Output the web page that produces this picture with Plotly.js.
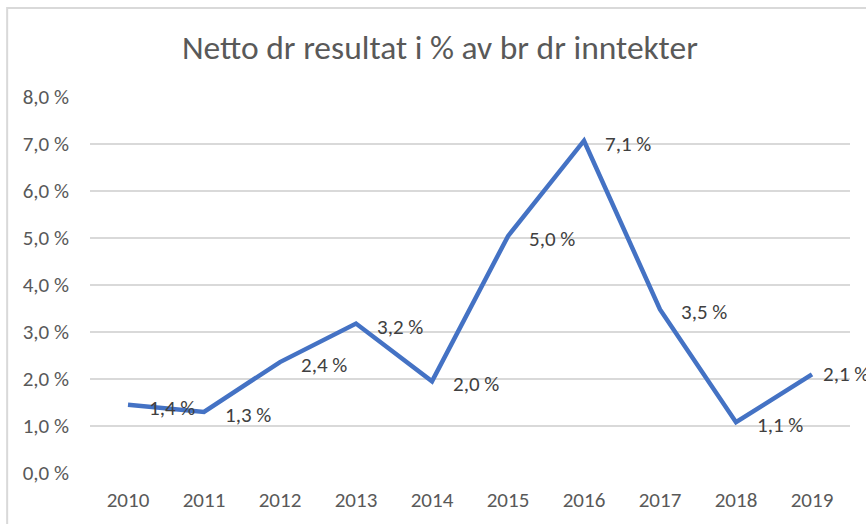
<!DOCTYPE html>
<html>
<head>
<meta charset="utf-8">
<script src="https://cdn.plot.ly/plotly-3.0.1.min.js"></script>
<style>
  html, body { margin: 0; padding: 0; background: #ffffff; overflow: hidden; }
  #chart { width: 866px; height: 524px; }
</style>
</head>
<body>
<div id="chart"></div>
<script>
const years = ['2010', '2011', '2012', '2013', '2014', '2015', '2016', '2017', '2018', '2019'];
const values = [1.45, 1.30, 2.36, 3.18, 1.95, 5.04, 7.07, 3.48, 1.08, 2.10];
const valueLabels = ['1,4 %', '1,3 %', '2,4 %', '3,2 %', '2,0 %', '5,0 %', '7,1 %', '3,5 %', '1,1 %', '2,1 %'];
const yTicks = [0, 1, 2, 3, 4, 5, 6, 7, 8];
const yTickLabels = ['0,0 %', '1,0 %', '2,0 %', '3,0 %', '4,0 %', '5,0 %', '6,0 %', '7,0 %', '8,0 %'];

const fontFam = 'Carlito, Calibri, Lato, sans-serif';

const trace = {
  type: 'scatter',
  mode: 'lines',
  x: years,
  y: values,
  line: { color: '#4472C4', width: 4.5 },
  hoverinfo: 'skip'
};

// category axis: annotation x given as category index;
// the last label is pulled in closer to its point (as the original chart does at the edge)
const lastIdx = years.length - 1;
const labelAnnotations = years.map((yr, i) => ({
  x: i,
  y: values[i],
  xref: 'x',
  yref: 'y',
  text: valueLabels[i],
  showarrow: false,
  xanchor: 'left',
  yanchor: 'middle',
  xshift: i === lastIdx ? 9 : 19,
  yshift: i === lastIdx ? 0 : -3,
  font: { family: fontFam, size: 21, color: '#404040' }
}));

const layout = {
  width: 866,
  height: 524,
  margin: { l: 90, r: 16, t: 97, b: 51 },
  paper_bgcolor: '#ffffff',
  plot_bgcolor: '#ffffff',
  showlegend: false,
  title: {
    text: 'Netto dr resultat i % av br dr inntekter',
    font: { family: fontFam, size: 33.5, color: '#595959' },
    x: 0.508,
    xanchor: 'center',
    y: 0.91,
    yanchor: 'middle'
  },
  xaxis: {
    type: 'category',
    categoryorder: 'array',
    categoryarray: years,
    range: [-0.5, years.length - 0.5],
    showgrid: false,
    zeroline: false,
    showline: false,
    ticks: '',
    tickfont: { family: fontFam, size: 21, color: '#595959' },
    ticklabelstandoff: 12
  },
  yaxis: {
    range: [0, 8],
    tickvals: yTicks,
    ticktext: yTickLabels,
    showgrid: true,
    gridcolor: '#d9d9d9',
    gridwidth: 1.5,
    zeroline: false,
    showline: false,
    ticks: '',
    tickfont: { family: fontFam, size: 21, color: '#595959' },
    ticklabelstandoff: 20
  },
  annotations: labelAnnotations,
  shapes: [
    {
      type: 'rect', xref: 'paper', yref: 'paper',
      x0: -0.109, x1: 1.5, y0: -0.5, y1: 1.237,
      line: { color: '#d9d9d9', width: 2 },
      fillcolor: 'rgba(0,0,0,0)',
      layer: 'below'
    }
  ]
};

Plotly.newPlot('chart', [trace], layout, { displayModeBar: false, staticPlot: true });
</script>
</body>
</html>
